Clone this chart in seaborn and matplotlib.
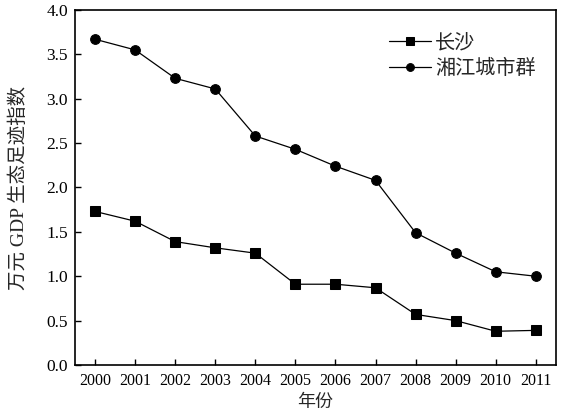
import matplotlib
matplotlib.use("Agg")
import matplotlib.pyplot as plt
import seaborn as sns
import pandas as pd

years = list(range(2000, 2012))
changsha = [1.73, 1.62, 1.39, 1.32, 1.26, 0.91, 0.91, 0.87, 0.57, 0.50, 0.38, 0.39]
xiangjiang = [3.67, 3.55, 3.23, 3.11, 2.58, 2.43, 2.24, 2.08, 1.49, 1.26, 1.05, 1.00]
series_names = ["长沙", "湘江城市群"]
series_markers = ["s", "o"]

sns.set_theme(style="ticks")
plt.rcParams["font.family"] = ["Liberation Serif", "Noto Sans CJK SC"]
plt.rcParams["axes.unicode_minus"] = False

df = pd.DataFrame({"year": years * 2,
                   "value": changsha + xiangjiang,
                   "series": [series_names[0]] * len(years) + [series_names[1]] * len(years)})

fig = plt.figure(figsize=(5.62, 4.15), dpi=100)
ax = fig.add_axes([0.1335, 0.1205, 0.8555, 0.8555])

for name, mk in zip(series_names, series_markers):
    sub = df[df["series"] == name]
    sns.lineplot(data=sub, x="year", y="value", ax=ax, color="black",
                 marker=mk, markersize=7 if mk == "o" else 6.5,
                 markeredgecolor="black", linewidth=0.9, label=name)

ax.set_xlim(1999.5, 2011.5)
ax.set_ylim(0, 4.0)
ax.set_xticks(years)
ax.set_xticklabels([str(y) for y in years], fontsize=11.5)
ax.set_yticks([0, 0.5, 1.0, 1.5, 2.0, 2.5, 3.0, 3.5, 4.0])
ax.set_yticklabels(["%.1f" % v for v in ax.get_yticks()], fontsize=12.5)
ax.tick_params(direction="in", length=4.5, width=1, colors="black")
ax.tick_params(axis="x", pad=6)
ax.tick_params(axis="y", pad=5)
for s in ax.spines.values():
    s.set_visible(True)
    s.set_linewidth(1.2)
    s.set_color("black")

ax.set_xlabel("年份", fontsize=13)
ax.set_ylabel("万元 GDP 生态足迹指数", fontsize=14)
ax.xaxis.set_label_coords(0.5, -0.083)
ax.yaxis.set_label_coords(-0.098, 0.5)

ax.legend(loc="upper left", frameon=False, fontsize=14.5, handlelength=2.1,
          handletextpad=0.2, borderaxespad=0, borderpad=0, labelspacing=0.35,
          markerscale=0.8, bbox_to_anchor=(0.652, 0.932))

fig.savefig("out.png", dpi=100)
